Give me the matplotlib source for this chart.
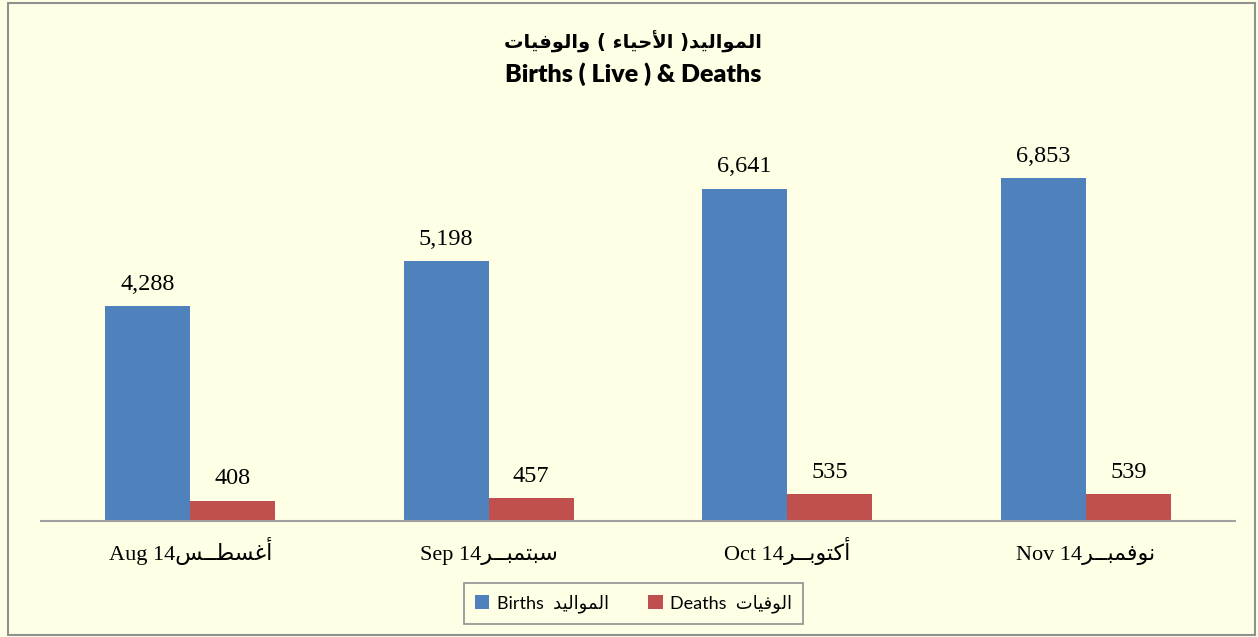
import matplotlib
matplotlib.use("Agg")
import matplotlib.pyplot as plt
from matplotlib.patches import Rectangle
from matplotlib.font_manager import FontProperties

# data
months_en = ["Aug 14", "Sep 14", "Oct 14", "Nov 14"]
months_ar = ["أغسطــس", "سبتمبــر", "أكتوبــر", "نوفمبــر"]
births = [4288, 5198, 6641, 6853]
deaths = [408, 457, 535, 539]
title_ar = "المواليد( الأحياء ) والوفيات"
title_en = "Births ( Live ) & Deaths"
births_ar = "المواليد"
deaths_ar = "الوفيات"

# matplotlib has no arabic shaping, so pick presentation forms by hand
FORMS = {
    '\u0621': ('\uFE80',),
    '\u0623': ('\uFE83', '\uFE84'),
    '\u0627': ('\uFE8D', '\uFE8E'),
    '\u0628': ('\uFE8F', '\uFE90', '\uFE91', '\uFE92'),
    '\u062A': ('\uFE95', '\uFE96', '\uFE97', '\uFE98'),
    '\u062D': ('\uFEA1', '\uFEA2', '\uFEA3', '\uFEA4'),
    '\u062F': ('\uFEA9', '\uFEAA'),
    '\u0631': ('\uFEAD', '\uFEAE'),
    '\u0633': ('\uFEB1', '\uFEB2', '\uFEB3', '\uFEB4'),
    '\u0637': ('\uFEC1', '\uFEC2', '\uFEC3', '\uFEC4'),
    '\u063A': ('\uFECD', '\uFECE', '\uFECF', '\uFED0'),
    '\u0641': ('\uFED1', '\uFED2', '\uFED3', '\uFED4'),
    '\u0643': ('\uFED9', '\uFEDA', '\uFEDB', '\uFEDC'),
    '\u0644': ('\uFEDD', '\uFEDE', '\uFEDF', '\uFEE0'),
    '\u0645': ('\uFEE1', '\uFEE2', '\uFEE3', '\uFEE4'),
    '\u0646': ('\uFEE5', '\uFEE6', '\uFEE7', '\uFEE8'),
    '\u0648': ('\uFEED', '\uFEEE'),
    '\u064A': ('\uFEF1', '\uFEF2', '\uFEF3', '\uFEF4'),
    '\u0640': ('\u0640', '\u0640', '\u0640', '\u0640'),
}
LAM_ALEF = {'\u0627': ('\uFEFB', '\uFEFC'), '\u0623': ('\uFEF7', '\uFEF8')}
MIRROR = {'(': ')', ')': '('}


def ar(s):
    out = []
    i = 0
    while i < len(s):
        c = s[i]
        prev = s[i - 1] if i > 0 else ''
        nxt = s[i + 1] if i + 1 < len(s) else ''
        joins_prev = len(FORMS.get(prev, ())) == 4 and len(FORMS.get(c, ())) >= 2
        if c == '\u0644' and nxt in LAM_ALEF:
            out.append(LAM_ALEF[nxt][1 if joins_prev else 0])
            i += 2
            continue
        if c not in FORMS:
            out.append(MIRROR.get(c, c))
            i += 1
            continue
        f = FORMS[c]
        joins_next = len(f) == 4 and len(FORMS.get(nxt, ())) >= 2
        if joins_prev and joins_next:
            out.append(f[3])
        elif joins_prev:
            out.append(f[1])
        elif joins_next:
            out.append(f[2])
        else:
            out.append(f[0])
        i += 1
    return "".join(reversed(out))


bg = "#FFFFE5"
serif = ["Liberation Serif", "DejaVu Sans"]
sans = ["Lato", "DejaVu Sans"]

fig = plt.figure(figsize=(12.58, 6.37), dpi=100, facecolor=bg)
ax = fig.add_axes([0.0326, 0.1821, 0.9491, 0.6286])
ax.set_facecolor(bg)

x = list(range(len(births)))
w = 0.285
b1 = ax.bar([i - w / 2 for i in x], births, w, color="#4F81BD", label="Births  " + ar(births_ar))
b2 = ax.bar([i + w / 2 for i in x], deaths, w, color="#C0504D", label="Deaths  " + ar(deaths_ar))

for bars, vals in [(b1, births), (b2, deaths)]:
    for r, v in zip(bars, vals):
        ax.annotate(f"{v:,}", (r.get_x() + r.get_width() / 2, v), xytext=(0, 8),
                    textcoords="offset points", ha="center", va="bottom",
                    fontsize=17.5, family=serif)

ax.set_xlim(-0.5, 3.5)
ax.set_ylim(0, 8000)
ax.set_yticks([])
ax.set_xticks(x)
ax.set_xticklabels([en + ar(a) for en, a in zip(months_en, months_ar)], fontsize=16, family=serif)
for lab in ax.get_xticklabels():
    lab.set_verticalalignment("baseline")
ax.tick_params(axis="x", length=0, pad=28)
for s in ["top", "right", "left"]:
    ax.spines[s].set_visible(False)
ax.spines["bottom"].set_color("#A0A0A0")
ax.spines["bottom"].set_linewidth(1.5)

fig.text(0.503, 0.935, ar(title_ar), ha="center", va="center", fontsize=14,
         fontweight="bold", family=["DejaVu Sans"])
fig.text(0.503, 0.884, title_en, ha="center", va="center", fontsize=18,
         fontweight="heavy", family=sans)

leg = fig.legend(loc="center", bbox_to_anchor=(0.5035, 0.0525), ncol=2,
                 prop=FontProperties(family=sans, size=13), fancybox=False,
                 edgecolor="#909090", facecolor=bg, framealpha=1,
                 handlelength=0.8, handleheight=0.8, handletextpad=0.4,
                 columnspacing=2.2, borderpad=0.6)
leg.get_frame().set_linewidth(1.2)

fig.patches.append(Rectangle((0.006, 0.003), 0.992, 0.992, transform=fig.transFigure,
                             fill=False, edgecolor="#909090", linewidth=1.5))

fig.savefig("out.png", dpi=100, facecolor=bg)
